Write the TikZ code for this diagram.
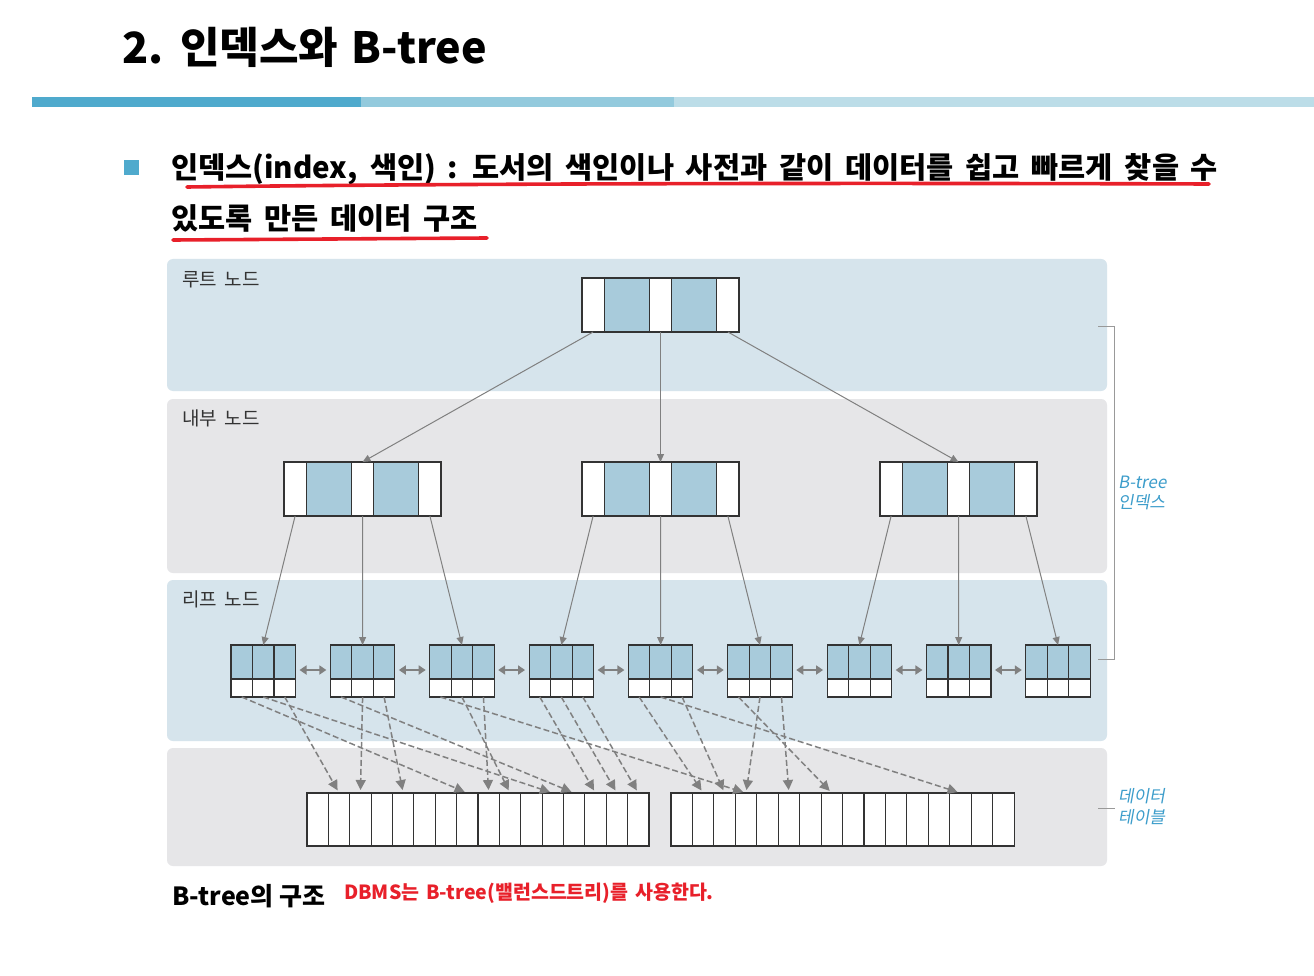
\documentclass[tikz,border=0pt]{standalone}
\usepackage{fontspec}
\setmainfont{Noto Sans CJK KR}
\newfontfamily\krhand[FakeSlant=0.18]{Noto Sans CJK KR}
\usetikzlibrary{arrows.meta,calc}

\definecolor{barA}{HTML}{4FAACD}
\definecolor{barB}{HTML}{93CADD}
\definecolor{barC}{HTML}{BCDDE8}
\definecolor{bandblue}{HTML}{D6E4EC}
\definecolor{bandgray}{HTML}{E6E6E8}
\definecolor{cellblue}{HTML}{A8CBDB}
\definecolor{linegray}{HTML}{808080}
\definecolor{markred}{HTML}{E8202A}
\definecolor{handblue}{HTML}{3C9DCB}

% wider word spaces, as on the slide
\newcommand\wordsp[1]{\spaceskip #1em plus 0.1em\relax}
% a root/internal node: five cells, white-blue-white-blue-white
\newcommand\bnode[3]{%
	\foreach \i/\dx/\w/\c in {1/0/22.2/white, 2/22.2/45.2/cellblue, 3/67.4/22.2/white, 4/89.6/45.2/cellblue, 5/134.8/22.2/white}
		\node[cell, fill=\c, minimum width=\w pt, minimum height=54pt] (#1-\i) at ({#2+\dx}, #3) {};
}
% a leaf node: three keys on top, three pointers below
\newcommand\leafnode[2]{%
	\foreach \j in {1,2,3} {
		\node[cell, fill=cellblue, minimum width=21.5pt, minimum height=34pt] (#1-t\j) at ({#2+(\j-1)*21.5}, 645) {};
		\node[cell, fill=white, minimum width=21.5pt, minimum height=18pt] (#1-b\j) at ({#2+(\j-1)*21.5}, 679) {};
	}
}

\begin{document}
\begin{tikzpicture}[x=1pt, y=-1pt,
		cell/.style={draw=black!80, line width=1.1pt, inner sep=0pt, outer sep=0pt, anchor=north west},
		band/.style={rounded corners=6pt, draw=none},
		txt/.style={anchor=base west, inner sep=0pt},
		tree/.style={draw=linegray, line width=1pt, -{Triangle[length=8pt, width=7pt]}},
		sibling/.style={draw=linegray, line width=2.6pt, {Triangle[length=7pt, width=9pt]}-{Triangle[length=7pt, width=9pt]}, shorten <=4pt, shorten >=4pt},
		ptr/.style={draw=linegray, line width=1.5pt, dash pattern=on 6pt off 3pt, -{Triangle[length=10pt, width=10pt]}, shorten >=3pt},
		level/.style={txt, text=black!80, font={\fontsize{19}{22}\selectfont\wordsp{0.4}}},
		hand/.style={txt, text=handblue, font={\krhand\fontsize{17}{20}\selectfont}}]
	\useasboundingbox (0, 0) rectangle (1314, 976);
	\fill[white] (0, 0) rectangle (1314, 976);

	% title and header bar
	\node[txt, font={\bfseries\fontsize{43}{48}\selectfont\wordsp{0.31}}] (title) at (122, 64) {2. 인덱스와 B-tree};
	\fill[barA] (32, 97) rectangle (361, 107);
	\fill[barB] (361, 97) rectangle (674, 107);
	\fill[barC] (674, 97) rectangle (1314, 107);

	% definition
	\fill[barA] (124, 160) rectangle (139, 175);
	\node[txt, font={\bfseries\fontsize{29.5}{34}\selectfont\wordsp{0.4}}] (def1) at (171, 179) {인덱스(index, 색인) : 도서의 색인이나 사전과 같이 데이터를 쉽고 빠르게 찾을 수};
	\node[txt, font={\bfseries\fontsize{29.5}{34}\selectfont\wordsp{0.4}}] (def2) at (171, 230) {있도록 만든 데이터 구조};
	\draw[markred, line width=3.6pt, line cap=round] (187, 187) .. controls (500, 183) and (900, 183) .. (1209, 184);
	\draw[markred, line width=3.6pt, line cap=round] (173, 240) -- (487, 238);

	% levels
	\fill[bandblue, band] (167, 259) rectangle (1107, 391);
	\fill[bandgray, band] (167, 399) rectangle (1107, 573);
	\fill[bandblue, band] (167, 580) rectangle (1107, 741);
	\fill[bandgray, band] (167, 748) rectangle (1107, 866);
	\node[level] (lvroot) at (182, 287) {루트 노드};
	\node[level] (lvinner) at (182, 425) {내부 노드};
	\node[level] (lvleaf) at (182, 606) {리프 노드};

	% nodes
	\bnode{root}{582}{278}
	\bnode{inA}{284}{462}
	\bnode{inB}{582}{462}
	\bnode{inC}{880}{462}
	\foreach \n in {1,...,9} {
		\leafnode{lf\n}{231+(\n-1)*99.35}
	}

	% data table
	\foreach \k in {0,...,15} {
		\node[cell, fill=white, minimum width=21.375pt, minimum height=53pt] (dl-\k) at ({307+\k*21.375}, 793) {};
		\node[cell, fill=white, minimum width=21.44pt, minimum height=53pt] (dr-\k) at ({671+\k*21.44}, 793) {};
	}

	% tree links
	\draw[tree] (root-1.south) -- (inA-3.north);
	\draw[tree] (root-3.south) -- (inB-3.north);
	\draw[tree] (root-5.south) -- (inC-3.north);
	\foreach \p/\a/\b/\c in {inA/lf1/lf2/lf3, inB/lf4/lf5/lf6, inC/lf7/lf8/lf9} {
		\draw[tree] (\p-1.south) -- (\a-t2.north);
		\draw[tree] (\p-3.south) -- (\b-t2.north);
		\draw[tree] (\p-5.south) -- (\c-t2.north);
	}
	\foreach \n [evaluate=\n as \m using int(\n+1)] in {1,...,8}
		\draw[sibling] ([yshift=-8pt]lf\n-t3.east) -- ([yshift=-8pt]lf\m-t1.west);

	% record pointers
	\foreach \s/\t in {lf1-b1/dl-7, lf1-b2/dl-11, lf1-b3/dl-1, lf2-b1/dl-12, lf2-b2/dl-2, lf2-b3/dl-4,
			lf3-b1/dr-3, lf3-b2/dl-9, lf3-b3/dl-8, lf4-b1/dl-13, lf4-b2/dl-14, lf4-b3/dl-15,
			lf5-b1/dr-1, lf5-b2/dr-13, lf5-b3/dr-2, lf6-b1/dr-7, lf6-b2/dr-3, lf6-b3/dr-5}
		\draw[ptr] (\s.south) -- (\t.north);

	% side labels
	\draw[black!40, line width=0.9pt] (1098, 326) -- (1114, 326) -- (1114, 659) -- (1098, 659);
	\draw[black!40, line width=0.9pt] (1098, 808) -- (1115, 808);
	\node[hand] (btree) at (1118, 488) {B-tree};
	\node[hand] (btidx) at (1118, 508) {인덱스};
	\node[hand] (dtab1) at (1118, 802) {데이터};
	\node[hand] (dtab2) at (1118, 823) {테이블};

	% caption
	\node[txt, font={\bfseries\fontsize{25}{30}\selectfont}] (cap) at (172, 905) {B-tree의 구조};
	\node[txt, text=markred, font={\bfseries\fontsize{19.5}{23}\selectfont\wordsp{0.34}}] (note) at (344, 899) {DBMS는 B-tree(밸런스드트리)를 사용한다.};
\end{tikzpicture}
\end{document}
